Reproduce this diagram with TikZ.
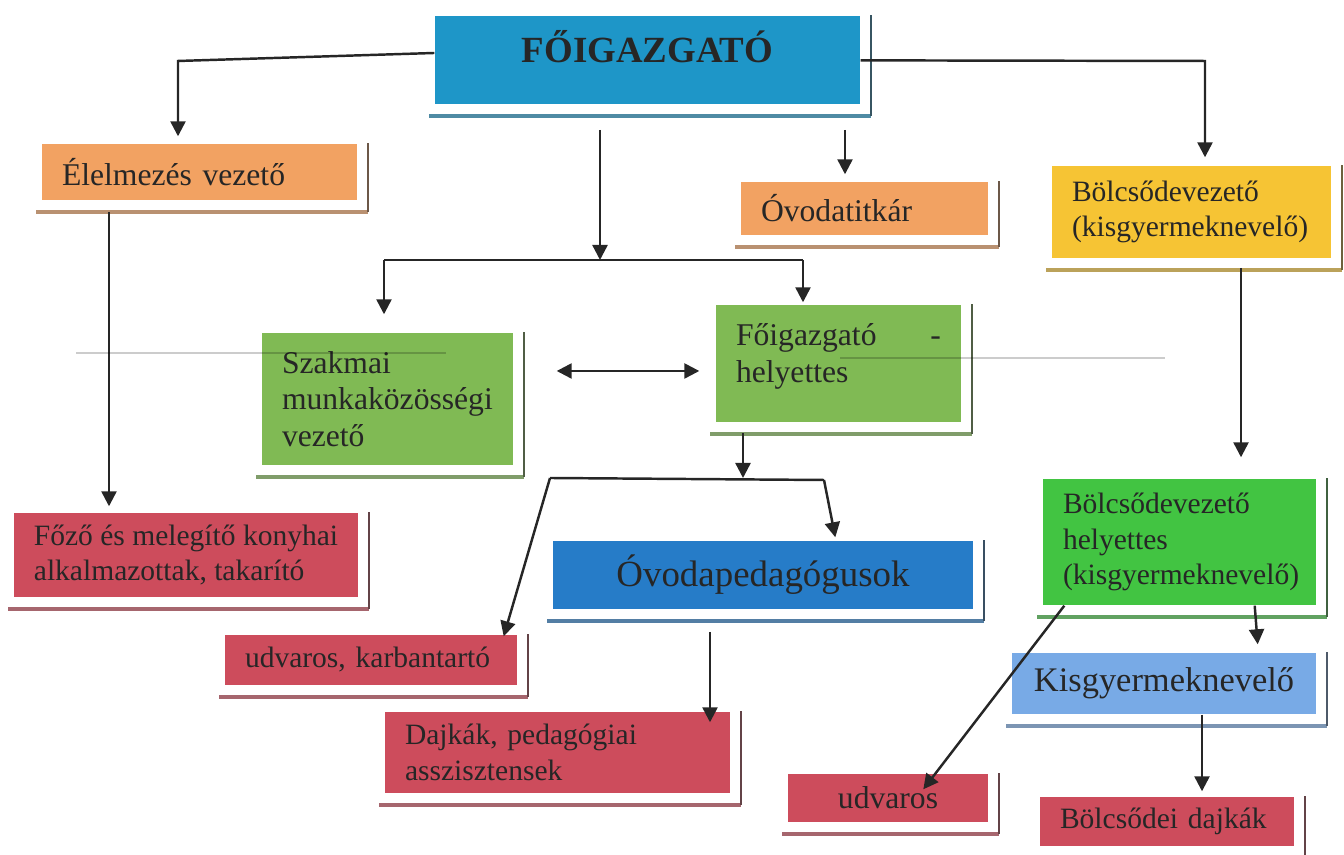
\documentclass[tikz,border=0pt]{standalone}
\usepackage{fontspec}
\setmainfont{Liberation Serif}
\usetikzlibrary{arrows.meta}
\hyphenpenalty=10000
\definecolor{fblue}{RGB}{30,150,200}
\definecolor{forange}{RGB}{242,162,98}
\definecolor{fyellow}{RGB}{246,196,52}
\definecolor{fgreen}{RGB}{128,186,84}
\definecolor{bgreen}{RGB}{66,196,66}
\definecolor{oblue}{RGB}{38,124,200}
\definecolor{lblue}{RGB}{120,170,230}
\definecolor{fred}{RGB}{205,76,92}
\definecolor{txt}{RGB}{38,38,38}
\begin{document}
\begin{tikzpicture}[x=0.1mm, y=-0.1mm,
    font=\fontsize{9}{10.4}\selectfont,
    smalltxt/.style={font=\fontsize{8.4}{10.2}\selectfont},
    box/.style={fill=#1, text=txt, inner xsep=2mm, inner ysep=0pt, align=left,
      append after command={
        ([xshift=-0.5mm,yshift=-1.1mm]\tikzlastnode.south west) edge[draw=#1!50!gray, line width=1.1pt]
        ([xshift=1mm,yshift=-1.1mm]\tikzlastnode.south east)
        ([xshift=1mm,yshift=-1.1mm]\tikzlastnode.south east) edge[draw=#1!25!darkgray, line width=0.6pt]
        ([xshift=1mm]\tikzlastnode.north east)}},
    arr/.style={-{Triangle[length=1.5mm,width=1.5mm]}, line width=0.7pt, draw=black!85},
    darr/.style={{Triangle[length=1.5mm,width=1.5mm]}-{Triangle[length=1.5mm,width=1.5mm]}, line width=0.7pt, draw=black!85},
    faint/.style={draw=black, opacity=0.2, line width=0.5pt}]
    \useasboundingbox (0,0) rectangle (1344,855);
    % boxes
    \node[box=fblue, minimum width=42.5mm, minimum height=8.8mm, text depth=2.8mm, font=\fontsize{10.5}{12}\selectfont\bfseries] (1) at (647.5,60) {FŐIGAZGATÓ};
    \node[box=forange, text width=27.5mm, minimum height=5.6mm] (2) at (199.5,172) {Élelmezés vezető};
    \node[box=forange, text width=20.7mm, minimum height=5.3mm] (3) at (864.5,208.5) {Óvodatitkár};
    \node[box=fyellow, smalltxt, text width=23.9mm, minimum height=9.2mm] (4) at (1191.5,212) {Bölcsődevezető\\(kisgyermeknevelő)};
    \node[box=fgreen, text width=21.1mm, minimum height=13.2mm] (5) at (387.5,399) {Szakmai\\munkaközösségi\\vezető};
    \node[box=fgreen, text width=20.5mm, minimum height=11.7mm, text depth=5.8mm] (6) at (838.5,363.5) {Főigazgató\hfill-\\helyettes};
    \node[box=fred, smalltxt, minimum width=34.2mm, minimum height=8.4mm] (7) at (186,555) {Főző és melegítő konyhai\\alkalmazottak, takarító};
    \node[box=oblue, minimum width=42mm, minimum height=6.8mm, font=\fontsize{10.5}{12}\selectfont] (8) at (763,575) {Óvodapedagógusok};
    \node[box=fred, smalltxt, text width=25.2mm, minimum height=5mm] (9) at (371,660) {udvaros, karbantartó};
    \node[box=fred, smalltxt, text width=30.5mm, minimum height=8.1mm] (10) at (557.5,752.5) {Dajkák, pedagógiai\\asszisztensek};
    \node[box=bgreen, smalltxt, text width=23.3mm, minimum height=12.6mm] (11) at (1179.5,542) {Bölcsődevezető\\helyettes\\(kisgyermeknevelő)};
    \node[box=lblue, minimum width=30.4mm, minimum height=6.1mm, font=\fontsize{9.8}{11.5}\selectfont] (12) at (1164,683.5) {Kisgyermeknevelő};
    \node[box=fred, minimum width=20mm, minimum height=4.8mm] (13) at (888,798) {udvaros};
    \node[box=fred, smalltxt, text width=21.4mm, minimum height=4.9mm] (14) at (1167,821.5) {Bölcsődei dajkák};
    % bends and free ends
    \coordinate (c1) at (178,61);
    \coordinate (c2) at (1205,61);
    \coordinate (c3) at (845,130);
    \coordinate (c4) at (600,130);
    \coordinate (c5) at (384,260);
    \coordinate (c6) at (803,260);
    \coordinate (c7) at (600,371);
    \coordinate (c8) at (109,212);
    \coordinate (c9) at (743,433);
    \coordinate (c10) at (550,478);
    \coordinate (c11) at (824,480);
    \coordinate (c12) at (710,632);
    \coordinate (c13) at (1241,268);
    \coordinate (f1) at (76,353);
    \coordinate (f2) at (446,353);
    \coordinate (f3) at (840,358);
    \coordinate (f4) at (1165,358);
    % connectors
    \draw[arr, shorten >=0.7mm] ([yshift=0.7mm]1.west) -- (c1) -- (c1 |- 2.north);
    \draw[arr, shorten >=0.8mm] (1) -- (c2) -- (c2 |- 4.north);
    \draw[arr, shorten >=0.7mm] (c3) -- (c3 |- 3.north);
    \draw[arr] (c4) -- (c4 |- c5);
    \draw[line width=0.7pt, black!85] (c5) -- (c6);
    \draw[arr, shorten >=1.8mm] (c5) -- (c5 |- 5.north);
    \draw[arr, shorten >=0.2mm] (c6) -- (c6 |- 6.north);
    \draw[darr, shorten <=4.3mm, shorten >=1.6mm] (5.east |- c7) -- (6.west |- c7);
    \draw[arr, shorten >=0.6mm] (c8) -- (c8 |- 7.north);
    \draw[arr] (c9) -- (c9 |- c10);
    \draw[line width=0.7pt, black!85] (c10) -- (c11);
    \draw[arr] (c11) -- ([xshift=28.3mm,yshift=0.3mm]8.north west);
    \draw[arr] (c10) -- ([xshift=-1.4mm,yshift=-0.2mm]9.north east);
    \draw[arr, shorten >=-1.1mm] (c12) -- (c12 |- 10.north);
    \draw[arr, shorten >=2.1mm] (c13) -- (c13 |- 11.north);
    \draw[arr] ([xshift=-6.2mm]11.south east) -- ([xshift=-5.9mm,yshift=0.8mm]12.north east);
    \draw[arr] ([xshift=2.2mm]11.south west) -- ([xshift=13.6mm,yshift=-1.6mm]13.north west);
    \draw[arr, shorten >=0.5mm] ([xshift=3.8mm]12.south) -- ([xshift=3.5mm]14.north);
    \draw[faint] (f1) -- (f2);
    \draw[faint] (f3) -- (f4);
\end{tikzpicture}
\end{document}
